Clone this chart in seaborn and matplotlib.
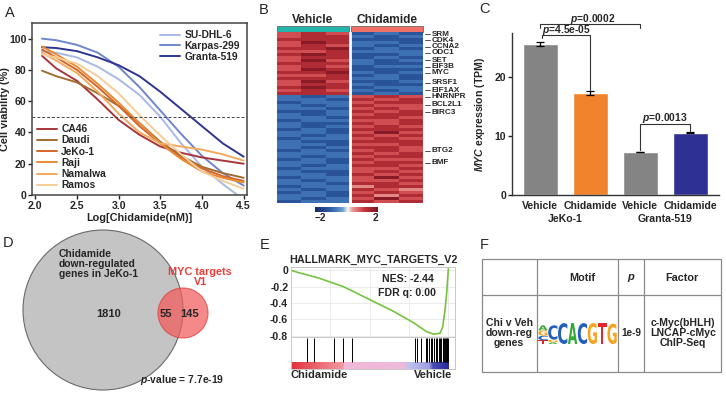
import numpy as np
import pandas as pd
import matplotlib
matplotlib.use("Agg")
import matplotlib.pyplot as plt
import seaborn as sns
from matplotlib.patches import Circle, Rectangle, PathPatch
from matplotlib.lines import Line2D
from matplotlib.textpath import TextPath
from matplotlib.font_manager import FontProperties
from matplotlib.transforms import Affine2D
from matplotlib.colors import LinearSegmentedColormap

# ---------------- data ----------------
# A: dose response curves
log_dose = [2.08, 2.25, 2.5, 2.75, 3.0, 3.25, 3.5, 3.75, 4.0, 4.25, 4.5]
viab_sudhl6 = [92, 91, 88, 82, 74, 64, 50, 33, 18, 7, -3]
viab_karpas = [100, 99, 96, 91, 82, 69, 54, 39, 25, 14, 6]
viab_granta = [94.5, 94, 92, 88, 83, 76, 66, 55, 44, 33, 24.5]
viab_ca46 = [89, 81, 73, 61, 48, 38.5, 31, 27, 24, 22, 20]
viab_daudi = [79.5, 76, 72, 65, 57, 46, 34, 25, 18, 14, 11]
viab_jeko = [93, 88, 80, 69, 57, 44, 33, 24, 17, 12, 9]
viab_raji = [95, 90, 82, 71, 59, 46, 33, 23, 15, 11, 8]
viab_namalwa = [91, 86, 78, 66, 52, 40, 33, 31, 29, 26, 22]
viab_ramos = [90, 88, 84, 76, 65, 51, 38, 26, 15, 9, 4]
blue_lines = ["SU-DHL-6", "Karpas-299", "Granta-519"]
orange_lines = ["CA46", "Daudi", "JeKo-1", "Raji", "Namalwa", "Ramos"]
line_colors = {"SU-DHL-6": "#a9b9e6", "Karpas-299": "#6f86cc", "Granta-519": "#2d3590",
               "CA46": "#a8353b", "Daudi": "#a36c33", "JeKo-1": "#d4662c",
               "Raji": "#e98b32", "Namalwa": "#f2aa5c", "Ramos": "#f6cd98"}

# B: heatmap rows (digit d -> z = (d-4)/2), 3 Vehicle + 3 Chidamide columns
heat_rows = ["676121", "677212", "777111", "687221", "676212", "778121", "667222",
             "787112", "677121", "686212", "777211", "676122", "687111", "778212",
             "667121", "777221", "686112", "677211", "787122", "676212", "777121",
             "212676", "221767", "122677", "212766", "221676", "112767", "212677",
             "221776", "122667", "211767", "212676", "121777", "221686", "212767",
             "122676", "211777", "221667", "212776", "121676", "222767", "212677",
             "121766", "221677", "212776", "122667", "211676", "221767", "122686",
             "212667", "221776", "122577", "212765", "121676", "221757", "212686",
             "122767"]
heat_groups = ["Vehicle", "Chidamide"]
gene_names = ["SRM", "CDK4", "CCNA2", "ODC1", "SET", "EIF3B", "MYC", "SRSF1",
              "EIF1AX", "HNRNPR", "BCL2L1", "BIRC3", "BTG2", "BMF"]
gene_ypix = [34, 40, 47, 53, 60, 67, 73, 83, 90, 97, 105, 112, 151, 163]

# C: MYC expression
c_conditions = ["Vehicle", "Chidamide", "Vehicle", "Chidamide"]
c_cells = ["JeKo-1", "JeKo-1", "Granta-519", "Granta-519"]
myc_tpm = [25.7, 17.3, 7.3, 10.6]
myc_err = [0.35, 0.4, 0.08, 0.15]
bar_colors = ["#848484", "#f0832c", "#848484", "#2e3192"]

# D: venn
venn_left, venn_overlap, venn_right = 1810, 55, 145

# E: GSEA running enrichment
es_rank = [0, 0.05, 0.10, 0.184, 0.333, 0.502, 0.65, 0.778, 0.862, 0.905, 0.947,
           0.964, 0.979, 0.989, 1.0]
es_score = [0, -0.03, -0.055, -0.10, -0.20, -0.36, -0.50, -0.64, -0.75, -0.78,
            -0.77, -0.69, -0.48, -0.28, 0.02]
hit_ranks = [0.10, 0.148, 0.273, 0.333, 0.39, 0.788, 0.803, 0.826, 0.856, 0.867,
             0.877, 0.888, 0.898, 0.909, 0.922, 0.93, 0.939, 0.947, 0.956, 0.964,
             0.968, 0.975, 0.981, 0.985, 0.989, 0.994, 0.998]

# F: motif logo (letter, height) per position, bottom -> top
logo = [[("T", 0.35), ("C", 0.4), ("G", 0.5), ("A", 0.45)],
        [("A", 0.15), ("G", 0.25), ("C", 1.3)],
        [("C", 1.9)], [("A", 1.9)], [("C", 1.9)], [("G", 1.9)], [("T", 1.9)], [("G", 1.85)]]
logo_colors = {"A": "#36a935", "C": "#2360bd", "G": "#f6a421", "T": "#e3262b"}

# ---------------- style ----------------
sns.set_theme(style="white")
plt.rcParams["font.family"] = ["Liberation Sans", "DejaVu Sans"]
plt.rcParams["font.weight"] = "bold"
plt.rcParams["axes.labelweight"] = "bold"
plt.rcParams["axes.titleweight"] = "bold"
plt.rcParams["mathtext.fontset"] = "custom"
plt.rcParams["mathtext.it"] = "Liberation Sans:italic:bold"
plt.rcParams["mathtext.rm"] = "Liberation Sans:bold"

W, H = 726, 393
fig = plt.figure(figsize=(W / 100, H / 100), dpi=100)

def px_axes(l, t, r, b):
    return fig.add_axes([l / W, 1 - b / H, (r - l) / W, (b - t) / H])

# overlay in pixel coords
ov = px_axes(0, 0, W, H)
ov.set_xlim(0, W)
ov.set_ylim(H, 0)
ov.axis("off")

for lab, x, y in [("A", 10, 13), ("B", 264, 10), ("C", 484, 9), ("D", 8, 243),
                  ("E", 265, 245), ("F", 484, 245)]:
    ov.text(x, y, lab, fontsize=10.5, fontweight="normal", ha="center", va="center")

# ---------------- A ----------------
ax_a = px_axes(32, 23, 247, 195)
rows = []
for name, vals in zip(blue_lines + orange_lines,
                      [viab_sudhl6, viab_karpas, viab_granta, viab_ca46, viab_daudi,
                       viab_jeko, viab_raji, viab_namalwa, viab_ramos]):
    for d, v in zip(log_dose, vals):
        rows.append({"dose": d, "viability": v, "line": name})
df_a = pd.DataFrame(rows)
sns.lineplot(data=df_a, x="dose", y="viability", hue="line", palette=line_colors,
             ax=ax_a, legend=False, lw=1.4)
ax_a.axhline(50, color="#444444", ls=(0, (3, 2)), lw=0.7)
ax_a.set_xlim(1.96, 4.54)
ax_a.set_ylim(0, 110)
ax_a.set_xticks([2.0, 2.5, 3.0, 3.5, 4.0, 4.5])
ax_a.set_xticklabels(["2.0", "2.5", "3.0", "3.5", "4.0", "4.5"])
ax_a.set_yticks([0, 20, 40, 60, 80, 100])
ax_a.tick_params(labelsize=7.6, length=3, width=1, direction="out", pad=1,
                 bottom=True, left=True)
for s in ax_a.spines.values():
    s.set_color("#444444")
    s.set_linewidth(1.1)
ax_a.set_xlabel("Log[Chidamide(nM)]", fontsize=7.8, labelpad=2)
ax_a.set_ylabel("Cell viability (%)", fontsize=7.8)
ax_a.yaxis.set_label_coords(-0.1, 0.5)
h_blue = [Line2D([], [], color=line_colors[n], lw=1.4) for n in blue_lines]
h_or = [Line2D([], [], color=line_colors[n], lw=1.4) for n in orange_lines]
leg1 = ax_a.legend(h_blue, blue_lines, loc="upper right", frameon=False, fontsize=7.4,
                   handlelength=2.0, handletextpad=0.4, labelspacing=0.08,
                   borderaxespad=0.3)
ax_a.add_artist(leg1)
ax_a.legend(h_or, orange_lines, loc="lower left", frameon=False, fontsize=7.4,
            handlelength=2.0, handletextpad=0.4, labelspacing=0.12, borderaxespad=0.05)

# ---------------- B ----------------
ax_b = px_axes(277, 32, 423, 203)
ax_cb = px_axes(315, 207, 378, 212)
mat = (np.array([[int(ch) for ch in r] for r in heat_rows]) - 4) / 2.0
heat_cmap = LinearSegmentedColormap.from_list(
    "hm", [(0, "#182a66"), (0.25, "#2f62ab"), (0.42, "#6d9fd0"), (0.5, "#f7f7f7"),
           (0.58, "#e89590"), (0.75, "#c8373d"), (1, "#6a0d1c")])
sns.heatmap(mat, ax=ax_b, cmap=heat_cmap, center=0, vmin=-2.4, vmax=2.2,
            xticklabels=False, yticklabels=False, cbar_ax=ax_cb,
            cbar_kws={"orientation": "horizontal", "ticks": [-2, 2]})
ax_b.axvline(mat.shape[1] / 2, color="white", lw=2)
ax_cb.tick_params(labelsize=7.2, length=0, pad=1)
ax_cb.set_xticklabels(["\u22122", "2"])
for grp, (x0, x1), col in zip(heat_groups, [(277, 349), (351, 423)], ["#22b5a9", "#f06f66"]):
    ov.add_patch(Rectangle((x0, 26), x1 - x0, 6, fc=col, ec="#555555", lw=0.5))
    ov.text((x0 + x1) / 2, 20, grp, fontsize=8.6, ha="center", va="center")
for g, y in zip(gene_names, gene_ypix):
    ov.plot([425, 430], [y, y], color="#333333", lw=0.6)
    ov.text(432, y, g, fontsize=5.9, ha="left", va="center")

# ---------------- C ----------------
ax_c = px_axes(512, 33, 719, 195)
keys = [c + " " + k for c, k in zip(c_cells, c_conditions)]
sns.barplot(x=keys, y=myc_tpm, hue=keys, palette=bar_colors, legend=False,
            width=0.7, saturation=1, errorbar=None, ax=ax_c)
ax_c.errorbar(range(len(keys)), myc_tpm, yerr=myc_err, fmt="none", ecolor="black",
              capsize=3, elinewidth=0.9, capthick=0.9)
ax_c.set_xlim(-0.56, 3.58)
ax_c.set_ylim(0, 27.5)
ax_c.set_yticks([0, 10, 20])
ax_c.set_xticks(range(len(keys)))
ax_c.set_xticklabels(c_conditions)
ax_c.tick_params(labelsize=7.6, length=3, width=1, pad=1, left=True, bottom=False)
sns.despine(ax=ax_c)
for s in ["left", "bottom"]:
    ax_c.spines[s].set_color("#333333")
    ax_c.spines[s].set_linewidth(1)
ax_c.set_ylabel(r"$MYC$ expression (TPM)", fontsize=7.6)
ax_c.yaxis.set_label_coords(-0.12, 0.5)
tr = ax_c.get_xaxis_transform()
ax_c.text(0.5, -0.15, c_cells[0], transform=tr, fontsize=7.6, ha="center", va="center")
ax_c.text(2.5, -0.15, c_cells[2], transform=tr, fontsize=7.6, ha="center", va="center")
brk = dict(color="#333333", lw=0.8, clip_on=False)
ax_c.plot([0, 0, 2, 2], [28.3, 29.0, 29.0, 28.3], **brk)
ax_c.text(1.05, 29.9, r"$p$=0.0002", fontsize=7.4, ha="center", va="center")
ax_c.plot([0.04, 0.04, 1, 1], [26.6, 27.1, 27.1, 17.9], **brk)
ax_c.text(0.53, 27.95, r"$p$=4.5e-05", fontsize=7.4, ha="center", va="center")
ax_c.plot([2, 2, 3, 3], [7.7, 12.1, 12.1, 10.9], **brk)
ax_c.text(2.49, 13.0, r"$p$=0.0013", fontsize=7.4, ha="center", va="center")

# ---------------- D ----------------
ov.add_patch(Circle((103, 310), 80, fc="#c4c4c4", ec="#6a6a6a", lw=0.8))
ov.add_patch(Circle((183, 313), 25, fc="#f25a5a", ec="#e03a3a", lw=0.8, alpha=0.72))
ov.text(59, 264, "Chidamide\ndown-regulated\ngenes in JeKo-1", fontsize=7.4,
        ha="left", va="center", linespacing=0.95)
ov.text(109, 314, str(venn_left), fontsize=8, ha="center", va="center")
ov.text(166, 314, str(venn_overlap), fontsize=8, ha="center", va="center")
ov.text(190, 314, str(venn_right), fontsize=8, ha="center", va="center")
ov.text(200, 277, "MYC targets\nV1", fontsize=7.8, color="#e8403a", ha="center",
        va="center", linespacing=0.95)
ov.text(182, 380, r"$p$-value = 7.7e-19", fontsize=7.4, ha="center", va="center")

# ---------------- E ----------------
ax_e = px_axes(291, 267, 455, 337)
sns.lineplot(x=es_rank, y=es_score, ax=ax_e, color="#77c23f", lw=1.2)
ax_e.set_xlim(0, 1.042)
ax_e.set_ylim(-0.815, 0.04)
ax_e.set_yticks([0, -0.2, -0.4, -0.6, -0.8])
ax_e.set_yticklabels(["0", "-0.2", "-0.4", "-0.6", "-0.8"])
ax_e.set_xticks([0.25, 0.5, 0.75, 1.0])
ax_e.set_xticklabels([])
ax_e.grid(True, color="#e8e8e8", lw=0.6)
ax_e.tick_params(labelsize=7.6, length=0, pad=2)
for s in ax_e.spines.values():
    s.set_color("#c8c8c8")
    s.set_linewidth(0.7)
ax_e.set_title("HALLMARK_MYC_TARGETS_V2", fontsize=7.8, pad=3, fontweight="bold")
ax_e.text(0.71, 0.83, "NES: -2.44", transform=ax_e.transAxes, fontsize=7.6,
          ha="center", va="center")
ax_e.text(0.71, 0.63, "FDR q: 0.00", transform=ax_e.transAxes, fontsize=7.6,
          ha="center", va="center")

ax_h = px_axes(291, 337, 455, 369)
ax_h.set_xlim(0, 1.042)
ax_h.set_ylim(0, 1)
ax_h.vlines(hit_ranks, 0.22, 0.97, color="black", lw=0.7)
rank_cmap = LinearSegmentedColormap.from_list(
    "rk", [(0, "#e2323e"), (0.33, "#f29aa0"), (0.335, "#f2b9d9"), (0.72, "#efb9d9"),
           (0.74, "#c4c4ee"), (0.88, "#9c9ce0"), (0.9, "#4e4eb8"), (1.0, "#2a2a9a")])
ax_h.imshow(np.linspace(0, 1, 300)[None, :], cmap=rank_cmap, aspect="auto",
            extent=(0, 1.0, 0, 0.2))
ax_h.set_xticks([])
ax_h.set_yticks([])
for s in ax_h.spines.values():
    s.set_color("#c8c8c8")
    s.set_linewidth(0.7)
ov.text(319, 375, "Chidamide", fontsize=8, ha="center", va="center")
ov.text(433, 375, "Vehicle", fontsize=8, ha="center", va="center")

# ---------------- F ----------------
tab = dict(color="#8a8a8a", lw=0.9)
ov.add_patch(Rectangle((482, 259), 239, 113, fc="none", ec="#8a8a8a", lw=0.9))
for x in [537, 618, 644]:
    ov.plot([x, x], [259, 372], **tab)
ov.plot([482, 721], [295, 295], **tab)
ov.text(582, 278, "Motif", fontsize=7.8, ha="center", va="center")
ov.text(631, 278, r"$p$", fontsize=8, ha="center", va="center")
ov.text(682, 278, "Factor", fontsize=7.8, ha="center", va="center")
ov.text(509, 333, "Chi v Veh\ndown-reg\ngenes", fontsize=7.6, ha="center", va="center",
        linespacing=1.05)
ov.text(631, 333, "1e-9", fontsize=7.2, ha="center", va="center")
ov.text(683, 333, "c-Myc(bHLH)\nLNCAP-cMyc\nChIP-Seq", fontsize=7.6, ha="center",
        va="center", linespacing=1.05)

ax_l = px_axes(538, 322, 617, 344)
ax_l.set_xlim(0, len(logo))
ax_l.set_ylim(0, 2)
ax_l.axis("off")
fp = FontProperties(family="DejaVu Sans", weight="bold")
for i, stack in enumerate(logo):
    y0 = 0
    for letter, h in stack:
        tp = TextPath((0, 0), letter, size=1, prop=fp)
        bb = tp.get_extents()
        t = (Affine2D().translate(-bb.x0, -bb.y0)
             .scale(0.94 / bb.width, h / bb.height).translate(i + 0.03, y0))
        ax_l.add_patch(PathPatch(t.transform_path(tp), fc=logo_colors[letter], lw=0))
        y0 += h

fig.savefig("out.png", dpi=100)
